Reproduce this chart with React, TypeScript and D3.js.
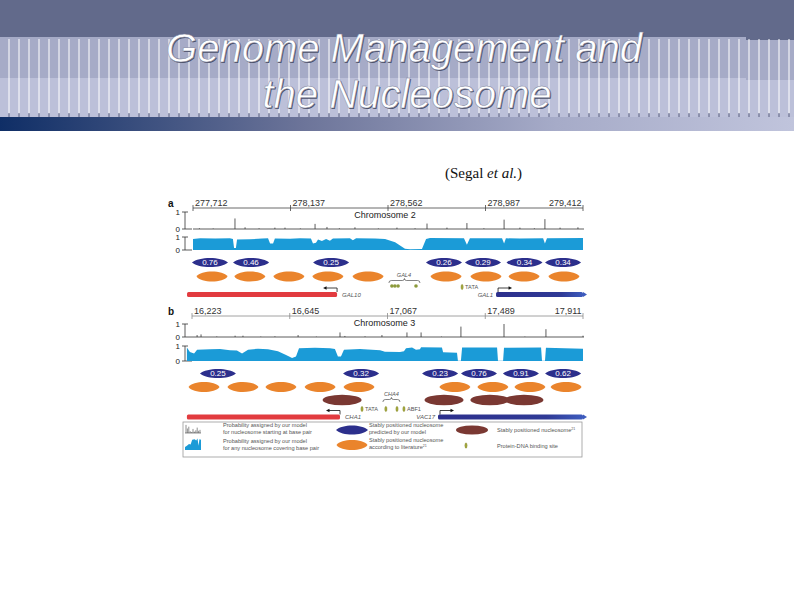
import React from "react";
import * as d3 from "d3";

const W = 794;
const H = 595;

const NAVY = "#2c2f8c";
const ORANGE = "#ea842c";
const BROWN = "#7a3832";
const BLUE = "#1b9bd7";
const RED = "#e23b3f";
const SITE = "#a4a83e";
const SANS = "'Liberation Sans', Arial, sans-serif";

// panel a - chromosome 2 (GAL1-10 locus)
const ticksA = [277712, 278137, 278562, 278987, 279412];
const spikesA = [
  [277740, 0.04], [277800, 0.03], [277895, 0.62], [277939, 0.1], [278000, 0.04],
  [278069, 0.08], [278113, 0.08], [278180, 0.03], [278244, 0.3], [278296, 0.12],
  [278350, 0.04], [278418, 0.1], [278520, 0.03], [278601, 0.08], [278680, 0.04],
  [278732, 0.32], [278819, 0.08], [278906, 0.35], [278980, 0.04], [279068, 0.55],
  [279137, 0.08], [279200, 0.04], [279246, 0.58], [279312, 0.08], [279390, 0.1],
];
const occA = [
  [277712, 0.85], [277743, 0.9], [277808, 0.88], [277873, 0.9], [277886, 0.85],
  [277891, 0.15], [277899, 0.15], [277904, 0.8], [277960, 0.82], [278013, 0.88],
  [278039, 0.9], [278048, 0.5], [278061, 0.5], [278069, 0.88], [278135, 0.86],
  [278178, 0.9], [278226, 0.88], [278235, 0.5], [278248, 0.55], [278257, 0.8],
  [278274, 0.7], [278292, 0.85], [278309, 0.72], [278322, 0.88], [278396, 0.9],
  [278409, 0.75], [278423, 0.9], [278505, 0.88], [278549, 0.85], [278593, 0.6],
  [278636, 0.1], [278658, 0.05], [278710, 0.08], [278728, 0.85], [278745, 0.92],
  [278893, 0.9], [278906, 0.4], [278919, 0.9], [279059, 0.9], [279068, 0.5],
  [279076, 0.9], [279137, 0.88], [279238, 0.9], [279246, 0.5], [279255, 0.9],
  [279412, 0.92],
];
const navyA = [277786, 277965, 278314, 278806, 278976, 279157, 279325];
const navyValA = ["0.76", "0.46", "0.25", "0.26", "0.29", "0.34", "0.34"];
const orangeA = [277795, 277960, 278130, 278300, 278475, 278815, 278989, 279155, 279329];
const brownA: number[] = [];
const genesA = [
  { name: "GAL10", start: 277686, end: 278340, strand: -1 },
  { name: "GAL1", start: 279033, end: 279412, strand: 1 },
];
const gal4Sites = [278579, 278592, 278606, 278684];
const tataA = 278885;

// panel b - chromosome 3 (CHA1 / VAC17)
const ticksB = [16223, 16645, 17067, 17489, 17911];
const spikesB = [
  [16245, 0.15], [16262, 0.2], [16330, 0.04], [16409, 0.1], [16443, 0.1],
  [16520, 0.03], [16581, 0.05], [16681, 0.15], [16760, 0.03], [16862, 0.35],
  [16883, 0.08], [16970, 0.05], [17043, 0.15], [17151, 0.35], [17212, 0.35],
  [17300, 0.03], [17384, 0.8], [17570, 1.0], [17660, 0.03], [17751, 0.6],
  [17911, 0.1],
];
const occB = [
  [16201, 0.9], [16214, 0.6], [16232, 0.5], [16245, 0.75], [16301, 0.78],
  [16344, 0.8], [16387, 0.72], [16417, 0.7], [16439, 0.5], [16465, 0.75],
  [16508, 0.82], [16551, 0.78], [16594, 0.65], [16629, 0.4], [16655, 0.2],
  [16672, 0.3], [16685, 0.85], [16754, 0.88], [16819, 0.85], [16840, 0.8],
  [16853, 0.3], [16866, 0.3], [16879, 0.75], [16948, 0.8], [17035, 0.72],
  [17056, 0.62], [17121, 0.6], [17138, 0.65], [17147, 0.85], [17173, 0.9],
  [17190, 0.75], [17207, 0.78], [17212, 0.92], [17302, 0.9], [17307, 0.58],
  [17367, 0.55], [17371, 0.02], [17384, 0.02], [17389, 0.9], [17540, 0.9],
  [17544, 0.02], [17566, 0.02], [17570, 0.88], [17730, 0.9], [17734, 0.02],
  [17747, 0.02], [17751, 0.88], [17911, 0.82],
];
const navyB = [16335, 16953, 17294, 17462, 17643, 17825];
const navyValB = ["0.25", "0.32", "0.23", "0.76", "0.91", "0.62"];
const orangeB = [16275, 16443, 16607, 16776, 16944, 17358, 17522, 17682, 17838];
const brownB = [16871, 17311, 17509, 17656];
const genesB = [
  { name: "CHA1", start: 16201, end: 16862, strand: -1 },
  { name: "VAC17", start: 17285, end: 17911, strand: 1 },
];
const tataB = 16957;
const cha4Sites = [17060, 17108];
const abf1B = 17138;

// legend icons
const legendSpikes = [0.9, 0.5, 0.7, 0.2, 0.1, 0.45, 0.15, 0.3, 0.6, 0.25, 0.35];
const legendOcc = [
  [0, 0.25], [0.12, 0.35], [0.25, 0.5], [0.35, 0.45], [0.45, 0.85],
  [0.6, 0.9], [0.7, 0.8], [0.78, 0.95], [0.85, 0.35], [0.9, 0.9], [1, 0.85],
];

const lens = (cx: number, cy: number, rx: number, ry: number, k = 0.6) => {
  const h = ry * 1.33;
  return `M${cx - rx},${cy}C${cx - rx * k},${cy - h} ${cx + rx * k},${cy - h} ${cx + rx},${cy}C${cx + rx * k},${cy + h} ${cx - rx * k},${cy + h} ${cx - rx},${cy}Z`;
};

const brace = (x1: number, x2: number, y: number) => {
  const m = (x1 + x2) / 2;
  return `M${x1},${y + 2.5}Q${x1},${y} ${x1 + 2.5},${y}L${m - 2},${y}Q${m},${y} ${m},${y - 2}Q${m},${y} ${m + 2},${y}L${x2 - 2.5},${y}Q${x2},${y} ${x2},${y + 2.5}`;
};

const Mark = ({ cx, cy }: { cx: number; cy: number }) => (
  <ellipse cx={cx} cy={cy} rx={1.2} ry={2.7} fill={SITE} stroke="#7c7e2a" strokeWidth={0.3} />
);

function YBracket({ y0, y1 }: { y0: number; y1: number }) {
  return (
    <g fontFamily={SANS} fontSize={8} fill="#222">
      <line x1={185} x2={185} y1={y1} y2={y0} stroke="#333" strokeWidth={0.8} />
      <line x1={182} x2={188} y1={y1} y2={y1} stroke="#333" strokeWidth={0.8} />
      <line x1={182} x2={192} y1={y0} y2={y0} stroke="#333" strokeWidth={0.8} />
      <text x={180} y={y1 + 3} textAnchor="end">1</text>
      <text x={180} y={y0 + 3} textAnchor="end">0</text>
    </g>
  );
}

function Gene({ x, g, y }: any) {
  const x0 = x(g.start);
  const x1 = x(g.end);
  const plus = g.strand > 0;
  const tss = plus ? x0 + 2 : x1;
  const tip = tss + g.strand * 14;
  return (
    <g>
      <rect x={x0} y={y - 2.5} width={x1 - x0} height={5} rx={1.5} fill={plus ? "url(#plusGene)" : RED} />
      {plus && <path d={`M${x1},${y - 2.5}L${x1 + 4},${y}L${x1},${y + 2.5}Z`} fill="#3d5bbd" />}
      <path d={`M${tss},${y - 2.5}V${y - 6.5}H${tip - g.strand * 3}`} fill="none" stroke="#111" strokeWidth={0.8} />
      <path d={`M${tip},${y - 6.5}L${tip - g.strand * 3.5},${y - 8.3}L${tip - g.strand * 3.5},${y - 4.7}Z`} fill="#111" />
      <text
        x={plus ? x0 - 3 : x1 + 5}
        y={y + 2}
        textAnchor={plus ? "end" : "start"}
        fontFamily={SANS}
        fontStyle="italic"
        fontSize={6}
        fill="#555"
      >
        {g.name}
      </text>
    </g>
  );
}

function Panel({ x, label, chrom, ticks, spikes, occ, navy, navyVal, orange, brown, ly, axisColor }: any) {
  const [r0, r1] = x.range();
  const ys = d3.scaleLinear().domain([0, 1]).range([ly.s0, ly.s1]);
  const yo = d3.scaleLinear().domain([0, 1]).range([ly.o0, ly.o1]);
  const area = d3
    .area<number[]>()
    .x((d) => x(d[0]))
    .y0(yo(0))
    .y1((d) => yo(d[1]));
  return (
    <g>
      <text x={168} y={ly.axis - 1} fontFamily={SANS} fontWeight="bold" fontSize={10} fill="#111">
        {label}
      </text>
      {/* coordinate axis */}
      <line x1={r0} x2={r1} y1={ly.axis} y2={ly.axis} stroke={axisColor} strokeWidth={0.8} />
      {ticks.map((t: number, i: number) => (
        <g key={t}>
          <line x1={x(t)} x2={x(t)} y1={ly.axis - 3} y2={ly.axis + 3} stroke={axisColor} strokeWidth={0.8} />
          <text
            x={i === ticks.length - 1 ? x(t) - 1.5 : x(t) + 2}
            y={ly.axis - 2}
            textAnchor={i === ticks.length - 1 ? "end" : "start"}
            fontFamily={SANS}
            fontSize={9}
            fill="#333"
          >
            {d3.format(",")(t)}
          </text>
        </g>
      ))}
      <text x={(r0 + r1) / 2 - 3} y={ly.chrom} textAnchor="middle" fontFamily={SANS} fontSize={9} fill="#222">
        {chrom}
      </text>
      {/* per-base start probability */}
      <YBracket y0={ly.s0} y1={ly.s1} />
      <line x1={r0} x2={r1 + 1} y1={ly.s0} y2={ly.s0} stroke="#333" strokeWidth={0.8} />
      {spikes.map((d: number[], i: number) => (
        <line key={i} x1={x(d[0])} x2={x(d[0])} y1={ly.s0} y2={ys(d[1])} stroke="#333" strokeWidth={0.8} />
      ))}
      {/* occupancy */}
      <YBracket y0={ly.o0} y1={ly.o1} />
      <path d={area(occ) || ""} fill={BLUE} />
      {/* nucleosomes */}
      {navy.map((p: number, i: number) => (
        <g key={p}>
          <path d={lens(x(p), ly.navy, 18, 4.6, 0.62)} fill={NAVY} />
          <text x={x(p)} y={ly.navy + 2.9} textAnchor="middle" fontFamily={SANS} fontSize={8} fill="#fff">
            {navyVal[i]}
          </text>
        </g>
      ))}
      {orange.map((p: number) => (
        <path key={p} d={lens(x(p), ly.orange, 15.5, 5, 0.72)} fill={ORANGE} />
      ))}
      {brown.map((p: number) => (
        <ellipse key={p} cx={x(p)} cy={ly.brown} rx={19.5} ry={5.2} fill={BROWN} />
      ))}
    </g>
  );
}

function Header() {
  const lines = d3.range(9, W, 10);
  return (
    <g>
      <defs>
        <linearGradient id="hbar" x1="0" x2="1" y1="0" y2="0">
          <stop offset="0" stopColor="#0f2e66" />
          <stop offset="0.38" stopColor="#6c7499" />
          <stop offset="0.7" stopColor="#a6abc8" />
          <stop offset="1" stopColor="#c0c4dc" />
        </linearGradient>
      </defs>
      <rect x={0} y={0} width={W} height={40} fill="#626a8b" />
      <rect x={0} y={37} width={746} height={41} fill="#a6abc7" />
      <rect x={746} y={40} width={W - 746} height={40} fill="#a6abc7" />
      <rect x={0} y={78} width={746} height={39} fill="#bcc0d9" />
      <rect x={746} y={80} width={W - 746} height={37} fill="#bcc0d9" />
      {lines.map((lx) => (
        <g key={lx}>
          <line x1={lx} x2={lx} y1={39} y2={114} stroke="#fff" strokeWidth={1} />
          <line x1={lx} x2={lx} y1={113} y2={117} stroke="#5a6080" strokeWidth={1} />
        </g>
      ))}
      <rect x={0} y={117} width={W} height={14} fill="url(#hbar)" />
      <g fontFamily={SANS} fontStyle="italic" fontSize={40} textAnchor="middle">
        <text x={405} y={63} fill="#4c5168">Genome Management and</text>
        <text x={408} y={109} fill="#4c5168">the Nucleosome</text>
        <text x={404} y={62} fill="#fff" stroke="#7a7f9a" strokeWidth={0.5}>Genome Management and</text>
        <text x={407} y={108} fill="#fff" stroke="#7a7f9a" strokeWidth={0.5}>the Nucleosome</text>
      </g>
    </g>
  );
}

function Legend() {
  const sx = d3.scaleLinear().domain([0, legendSpikes.length - 1]).range([186, 200]);
  const sy = d3.scaleLinear().domain([0, 1]).range([433, 424]);
  const ix = d3.scaleLinear().domain([0, 1]).range([185, 201]);
  const iy = d3.scaleLinear().domain([0, 1]).range([450, 438]);
  const icon = d3
    .area<number[]>()
    .x((d) => ix(d[0]))
    .y0(iy(0))
    .y1((d) => iy(d[1]));
  const t = { fontFamily: SANS, fontSize: 5.6, fill: "#555" };
  return (
    <g>
      <rect x={183} y={422} width={399} height={35} fill="#fff" stroke="#9a9a9a" strokeWidth={0.8} />
      <line x1={185} x2={201} y1={433} y2={433} stroke="#444" strokeWidth={0.6} />
      {legendSpikes.map((v, i) => (
        <line key={i} x1={sx(i)} x2={sx(i)} y1={433} y2={sy(v)} stroke="#444" strokeWidth={0.6} />
      ))}
      <path d={icon(legendOcc) || ""} fill={BLUE} />
      <text {...t} x={223} y={427}>Probability assigned by our model</text>
      <text {...t} x={223} y={434}>for nucleosome starting at base pair</text>
      <text {...t} x={223} y={443}>Probability assigned by our model</text>
      <text {...t} x={223} y={450}>for any nucleosome covering base pair</text>
      <path d={lens(352, 430, 16, 4.6, 0.62)} fill={NAVY} />
      <path d={lens(352, 445, 15.5, 5, 0.72)} fill={ORANGE} />
      <text {...t} x={369} y={427}>Stably positioned nucleosome</text>
      <text {...t} x={369} y={434}>predicted by our model</text>
      <text {...t} x={369} y={442}>Stably positioned nucleosome</text>
      <text {...t} x={369} y={449}>
        according to literature<tspan fontSize={3.6} dy={-2}>21</tspan>
      </text>
      <ellipse cx={472} cy={430} rx={16} ry={4.6} fill={BROWN} />
      <text {...t} x={497} y={432}>
        Stably positioned nucleosome<tspan fontSize={3.6} dy={-2}>21</tspan>
      </text>
      <Mark cx={466} cy={445.5} />
      <text {...t} x={497} y={448}>Protein-DNA binding site</text>
    </g>
  );
}

export default function App() {
  const xA = d3.scaleLinear().domain([ticksA[0], ticksA[ticksA.length - 1]]).range([193, 583]);
  const xB = d3.scaleLinear().domain([ticksB[0], ticksB[ticksB.length - 1]]).range([192, 583]);

  const lyA = { axis: 208, chrom: 218, s0: 229, s1: 212, o0: 250, o1: 237, navy: 262.5, orange: 276.5, brown: 0 };
  const lyB = { axis: 316, chrom: 326, s0: 337, s1: 324, o0: 361, o1: 346, navy: 373.5, orange: 387, brown: 400 };
  const geneYA = 294.5;
  const geneYB = 417;
  const small = { fontFamily: SANS, fontSize: 5.6, fill: "#555" };

  const gal4x = gal4Sites.map((p) => xA(p));
  const cha4x = cha4Sites.map((p) => xB(p));

  return (
    <svg
      width={W}
      height={H}
      viewBox={`0 0 ${W} ${H}`}
      style={{ position: "absolute", left: 0, top: 0, background: "#fff" }}
    >
      <defs>
        <linearGradient id="plusGene" x1="0" x2="1" y1="0" y2="0">
          <stop offset="0" stopColor={NAVY} />
          <stop offset="0.75" stopColor="#2f3a96" />
          <stop offset="1" stopColor="#3d5bbd" />
        </linearGradient>
      </defs>
      <rect width={W} height={H} fill="#fff" />
      <Header />

      <text x={445} y={178} fontFamily="'Liberation Serif', 'Times New Roman', serif" fontSize={15} fill="#111">
        (Segal <tspan fontStyle="italic">et al.</tspan>)
      </text>

      <Panel
        x={xA}
        label="a"
        chrom="Chromosome 2"
        ticks={ticksA}
        spikes={spikesA}
        occ={occA}
        navy={navyA}
        navyVal={navyValA}
        orange={orangeA}
        brown={brownA}
        ly={lyA}
        axisColor="#444"
      />
      {/* GAL4 sites and TATA */}
      <text {...small} fontStyle="italic" x={(gal4x[0] + gal4x[3]) / 2} y={277} textAnchor="middle">GAL4</text>
      <path d={brace(gal4x[0] - 3, gal4x[3] + 4, 280.5)} fill="none" stroke="#333" strokeWidth={0.6} />
      {gal4x.map((gx, i) => (
        <circle key={i} cx={gx} cy={286} r={1.8} fill="#8c9a3c" />
      ))}
      <Mark cx={xA(tataA)} cy={287} />
      <text {...small} x={xA(tataA) + 3} y={289}>TATA</text>
      {genesA.map((g) => (
        <Gene key={g.name} x={xA} g={g} y={geneYA} />
      ))}

      <Panel
        x={xB}
        label="b"
        chrom="Chromosome 3"
        ticks={ticksB}
        spikes={spikesB}
        occ={occB}
        navy={navyB}
        navyVal={navyValB}
        orange={orangeB}
        brown={brownB}
        ly={lyB}
        axisColor="#8a8a8a"
      />
      {/* CHA4, ABF1 sites and TATA */}
      <Mark cx={xB(tataB)} cy={409} />
      <text {...small} x={xB(tataB) + 3} y={411}>TATA</text>
      <text {...small} fontStyle="italic" x={(cha4x[0] + cha4x[1]) / 2} y={396} textAnchor="middle">CHA4</text>
      <path d={brace(cha4x[0] - 3, cha4x[1] + 3, 399.5)} fill="none" stroke="#333" strokeWidth={0.6} />
      {cha4x.map((cx, i) => (
        <Mark key={i} cx={cx} cy={409} />
      ))}
      <Mark cx={xB(abf1B)} cy={409} />
      <text {...small} x={xB(abf1B) + 3} y={411}>ABF1</text>
      {genesB.map((g) => (
        <Gene key={g.name} x={xB} g={g} y={geneYB} />
      ))}

      <Legend />
    </svg>
  );
}
